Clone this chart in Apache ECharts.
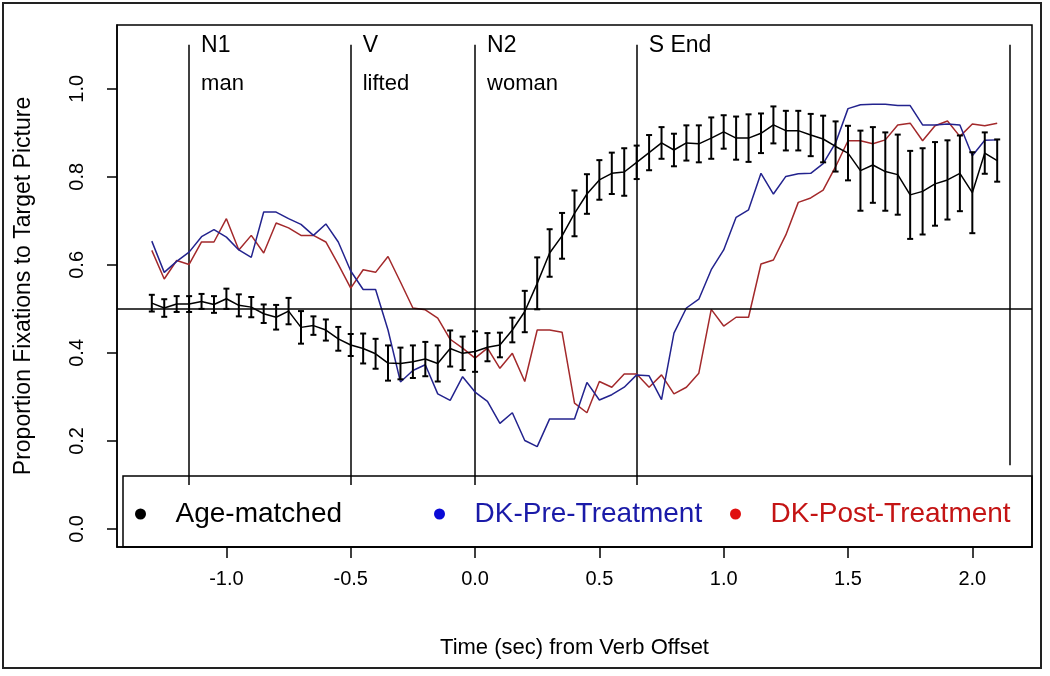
<!DOCTYPE html>
<html><head><meta charset="utf-8">
<script src="https://cdn.jsdelivr.net/npm/echarts@6/dist/echarts.min.js"></script>
<style>html,body{margin:0;padding:0;background:#fff}#c{width:1050px;height:676px}</style>
</head><body><div id="c"></div>
<script>
// time (sec) from verb offset
const times = [-1.30,-1.25,-1.20,-1.15,-1.10,-1.05,-1.00,-0.95,-0.90,-0.85,
  -0.80,-0.75,-0.70,-0.65,-0.60,-0.55,-0.50,-0.45,-0.40,-0.35,
  -0.30,-0.25,-0.20,-0.15,-0.10,-0.05,0.00,0.05,0.10,0.15,
  0.20,0.25,0.30,0.35,0.40,0.45,0.50,0.55,0.60,0.65,
  0.70,0.75,0.80,0.85,0.90,0.95,1.00,1.05,1.10,1.15,
  1.20,1.25,1.30,1.35,1.40,1.45,1.50,1.55,1.60,1.65,
  1.70,1.75,1.80,1.85,1.90,1.95,2.00,2.05,2.10];
const ageMatched = [0.513,0.502,0.511,0.511,0.517,0.510,0.523,0.508,0.504,0.489,
  0.481,0.495,0.458,0.462,0.452,0.432,0.418,0.410,0.398,0.377,
  0.376,0.380,0.386,0.376,0.410,0.399,0.403,0.413,0.418,0.452,
  0.494,0.558,0.627,0.666,0.717,0.761,0.793,0.808,0.811,0.833,
  0.855,0.877,0.861,0.877,0.875,0.888,0.902,0.888,0.888,0.899,
  0.918,0.905,0.905,0.895,0.886,0.869,0.854,0.814,0.827,0.812,
  0.805,0.759,0.767,0.784,0.793,0.808,0.764,0.854,0.837];
const ageMatchedErr = [0.019,0.020,0.018,0.018,0.017,0.019,0.023,0.025,0.023,0.021,
  0.028,0.030,0.037,0.021,0.024,0.027,0.025,0.034,0.034,0.040,
  0.036,0.037,0.039,0.041,0.041,0.038,0.046,0.032,0.028,0.028,
  0.047,0.059,0.054,0.052,0.052,0.045,0.045,0.047,0.054,0.038,
  0.040,0.036,0.037,0.040,0.042,0.047,0.038,0.049,0.054,0.045,
  0.042,0.045,0.045,0.048,0.053,0.057,0.062,0.091,0.086,0.089,
  0.091,0.100,0.098,0.095,0.090,0.086,0.092,0.047,0.048];
const dkPre = [0.654,0.583,0.608,0.629,0.664,0.680,0.663,0.634,0.617,0.720,
  0.720,0.705,0.692,0.667,0.693,0.652,0.586,0.544,0.544,0.452,
  0.334,0.360,0.373,0.307,0.292,0.346,0.311,0.290,0.240,0.264,
  0.201,0.187,0.250,0.250,0.250,0.333,0.293,0.305,0.322,0.350,
  0.348,0.294,0.445,0.502,0.522,0.589,0.634,0.708,0.725,0.808,
  0.761,0.801,0.807,0.808,0.830,0.877,0.955,0.964,0.965,0.965,
  0.962,0.962,0.918,0.918,0.920,0.918,0.848,0.883,0.884];
const dkPost = [0.633,0.568,0.610,0.601,0.652,0.652,0.705,0.634,0.667,0.627,
  0.695,0.684,0.667,0.667,0.652,0.601,0.547,0.589,0.583,0.619,
  0.561,0.502,0.498,0.479,0.431,0.411,0.388,0.411,0.365,0.399,
  0.335,0.452,0.452,0.447,0.286,0.264,0.335,0.322,0.352,0.352,
  0.322,0.350,0.307,0.322,0.354,0.499,0.461,0.481,0.481,0.602,
  0.611,0.668,0.742,0.752,0.770,0.823,0.882,0.882,0.875,0.884,
  0.918,0.922,0.882,0.916,0.927,0.892,0.920,0.916,0.922];
const xTicks = [-1.0,-0.5,0.0,0.5,1.0,1.5,2.0];
const yTicks = [0.0,0.2,0.4,0.6,0.8,1.0];
const eventTimes = [-1.15,-0.5,0.0,0.65];
const eventCodes = ['N1','V','N2','S End'];
const eventWords = ['man','lifted','woman',''];
const eventLineTop = 1.10, eventLineBottom = 0.10;
const endLineTime = 2.15, endLineBottom = 0.145;
const chanceLevel = 0.5;
const seriesNames = ['Age-matched','DK-Pre-Treatment','DK-Post-Treatment'];

const FONT = "'Liberation Sans', Arial, sans-serif";
const chart = echarts.init(document.getElementById('c'), null, {renderer:'canvas'});

const eventLineData = eventTimes.map(t => ({coords:[[t,eventLineTop],[t,eventLineBottom]]}));
eventLineData.push({coords:[[endLineTime,eventLineTop],[endLineTime,endLineBottom]]});

function legendFor(name, left, dot, text) {
  return {
    data:[{name, icon:'circle', itemStyle:{color:dot}, textStyle:{color:text}}],
    left, top:500, padding:0, itemWidth:30, itemHeight:11, selectedMode:false,
    textStyle:{fontSize:28, fontFamily:FONT, color:text, padding:[0,0,0,15]}
  };
}

const option = {
  animation:false,
  backgroundColor:'#fff',
  textStyle:{fontFamily:FONT},
  grid:{left:117, right:18, top:25, bottom:129, show:true, borderColor:'#000', borderWidth:1.5, backgroundColor:'transparent'},
  legend:[
    legendFor(seriesNames[0], 135, '#000', '#000'),
    legendFor(seriesNames[1], 434, '#0a0ad6', '#1a1aa8'),
    legendFor(seriesNames[2], 730, '#e01010', '#c41414')
  ],
  xAxis:{
    type:'value', min:-1.44, max:2.24,
    name:'Time (sec) from Verb Offset', nameLocation:'middle', nameGap:90,
    nameTextStyle:{fontSize:22, color:'#000', fontFamily:FONT},
    axisLine:{show:true, onZero:false, lineStyle:{color:'#000', width:1.5}},
    axisTick:{show:true, inside:false, length:11, lineStyle:{color:'#000', width:1.5}, customValues:xTicks},
    axisLabel:{show:true, customValues:xTicks, margin:22, fontSize:20, color:'#000', fontFamily:FONT,
      formatter:v => v.toFixed(1)},
    splitLine:{show:false}
  },
  yAxis:{
    type:'value', min:-0.041, max:1.145,
    name:'Proportion Fixations to Target Picture', nameLocation:'middle', nameGap:82,
    nameTextStyle:{fontSize:23, color:'#000', fontFamily:FONT},
    axisLine:{show:true, onZero:false, lineStyle:{color:'#000', width:1.5}},
    axisTick:{show:true, inside:false, length:10, lineStyle:{color:'#000', width:1.5}, customValues:yTicks},
    axisLabel:{show:true, customValues:yTicks, rotate:90, margin:30, fontSize:20, color:'#000', fontFamily:FONT,
      formatter:v => v.toFixed(1)},
    splitLine:{show:false}
  },
  graphic:[
    {type:'rect', shape:{x:3, y:3, width:1038, height:665}, style:{fill:'none', stroke:'#222', lineWidth:2}, z:100, silent:true},
    {type:'rect', shape:{x:123, y:476, width:909, height:71}, style:{fill:'none', stroke:'#000', lineWidth:1.5}, z:100, silent:true}
  ],
  series:[
    {
      name:'events', type:'lines', coordinateSystem:'cartesian2d', polyline:false, silent:true,
      data:eventLineData, lineStyle:{color:'#000', width:1.5, opacity:1}, z:1
    },
    {
      name:'codes', type:'scatter', symbolSize:0, silent:true, itemStyle:{opacity:1},
      data:eventTimes.map((t,i)=>[t,1.097,eventCodes[i]]),
      label:{show:true, position:'right', distance:12, formatter:p=>p.value[2], fontSize:23, color:'#000', opacity:1, fontFamily:FONT}
    },
    {
      name:'words', type:'scatter', symbolSize:0, silent:true, itemStyle:{opacity:1},
      data:eventTimes.map((t,i)=>[t,1.012,eventWords[i]]),
      label:{show:true, position:'right', distance:12, formatter:p=>p.value[2], fontSize:22, color:'#000', opacity:1, fontFamily:FONT}
    },
    {
      name:seriesNames[2], type:'line', showSymbol:false, symbol:'none',
      data:times.map((t,i)=>[t,dkPost[i]]), color:'#a3292b',
      lineStyle:{color:'#a3292b', width:1.5}, z:3
    },
    {
      name:seriesNames[1], type:'line', showSymbol:false, symbol:'none',
      data:times.map((t,i)=>[t,dkPre[i]]), color:'#23238e',
      lineStyle:{color:'#23238e', width:1.5}, z:4
    },
    {
      name:seriesNames[0], type:'line', showSymbol:false, symbol:'none',
      data:times.map((t,i)=>[t,ageMatched[i]]), color:'#000',
      lineStyle:{color:'#000', width:1.5}, z:5,
      markLine:{silent:true, symbol:'none', label:{show:false},
        lineStyle:{color:'#000', width:1.5, type:'solid'}, data:[{yAxis:chanceLevel}]}
    },
    {
      name:'errorbars', type:'custom', silent:true, z:6, clip:true,
      data:times.map((t,i)=>[t, ageMatched[i], ageMatchedErr[i]]),
      encode:{x:0, y:1},
      renderItem:(params, api) => {
        const t = api.value(0), m = api.value(1), e = api.value(2);
        const top = api.coord([t, m+e]), bot = api.coord([t, m-e]);
        const w = 3;
        const style = {stroke:'#000', lineWidth:2};
        return {type:'group', children:[
          {type:'line', shape:{x1:top[0],y1:top[1],x2:bot[0],y2:bot[1]}, style},
          {type:'line', shape:{x1:top[0]-w,y1:top[1],x2:top[0]+w,y2:top[1]}, style},
          {type:'line', shape:{x1:bot[0]-w,y1:bot[1],x2:bot[0]+w,y2:bot[1]}, style}
        ]};
      }
    }
  ]
};
chart.setOption(option);
</script>
</body></html>
